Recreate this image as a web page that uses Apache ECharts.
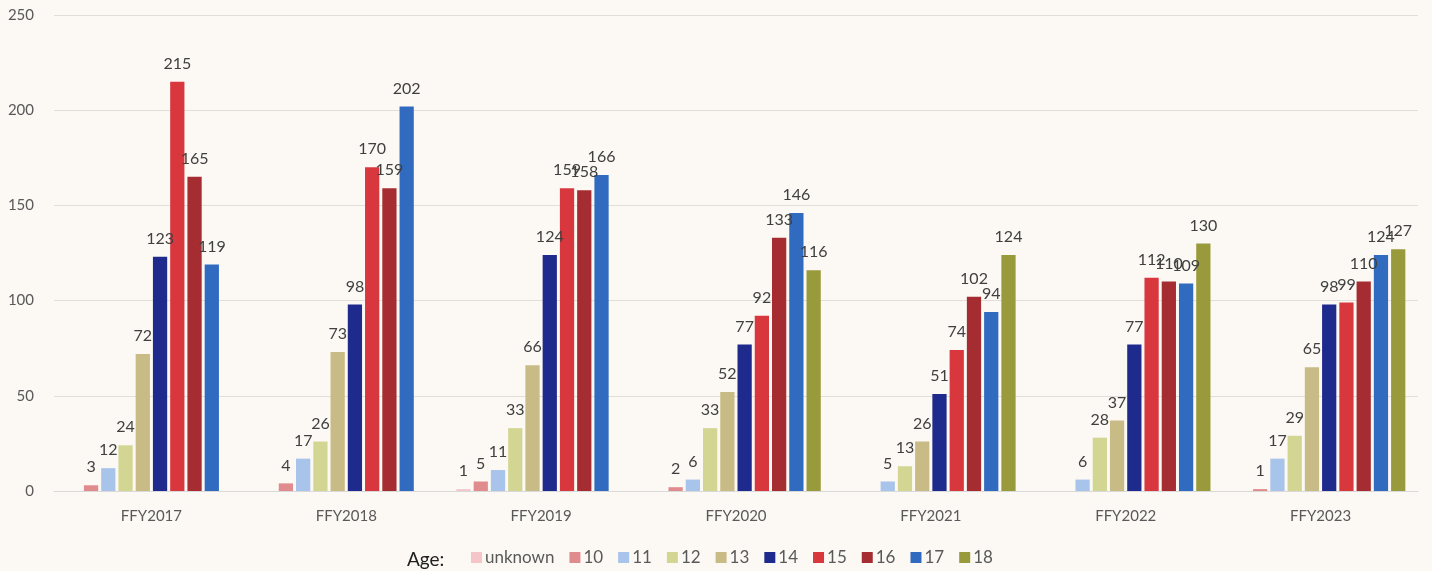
<!DOCTYPE html>
<html>
<head>
<meta charset="utf-8">
<script src="https://cdn.jsdelivr.net/npm/echarts@6/dist/echarts.min.js"></script>
<style>
html,body{margin:0;padding:0;background:#FCF9F4;}
#c{width:1432px;height:571px;}
</style>
</head>
<body>
<div id="c"></div>
<script>
const categories = ['FFY2017','FFY2018','FFY2019','FFY2020','FFY2021','FFY2022','FFY2023'];
const seriesNames = ['unknown','10','11','12','13','14','15','16','17','18'];
const vUnknown = [null, null, 1, null, null, null, null];
const v10 = [3, 4, 5, 2, null, null, 1];
const v11 = [12, 17, 11, 6, 5, 6, 17];
const v12 = [24, 26, 33, 33, 13, 28, 29];
const v13 = [72, 73, 66, 52, 26, 37, 65];
const v14 = [123, 98, 124, 77, 51, 77, 98];
const v15 = [215, 170, 159, 92, 74, 112, 99];
const v16 = [165, 159, 158, 133, 102, 110, 110];
const v17 = [119, 202, 166, 146, 94, 109, 124];
const v18 = [null, null, null, 116, 124, 130, 127];
const yTicks = [0, 50, 100, 150, 200, 250];

const allValues = [vUnknown, v10, v11, v12, v13, v14, v15, v16, v17, v18];
const colors = ['#F4C6CA','#E08B8E','#A8C4EA','#D3D592','#C9BB86','#1E2B8C','#D9373E','#A52D31','#316BC0','#999A3B'];
const FONT = 'Lato, "Liberation Sans", sans-serif';

const chart = echarts.init(document.getElementById('c'));
const series = seriesNames.map((n, i) => ({
  name: n,
  type: 'bar',
  data: allValues[i],
  barGap: '21%',
  barCategoryGap: '13%',
  itemStyle: { color: colors[i] },
  label: {
    show: true,
    position: 'top',
    distance: 10,
    color: '#404040',
    fontSize: 16,
    fontFamily: FONT
  }
}));

chart.setOption({
  backgroundColor: '#FCF9F4',
  animation: false,
  textStyle: { fontFamily: FONT },
  grid: { left: 54, right: 14, top: 15, bottom: 80 },
  legend: {
    bottom: 0,
    left: 466,
    itemWidth: 11,
    itemHeight: 11,
    itemGap: 15,
    icon: 'rect',
    textStyle: { fontSize: 17, color: '#595959', fontFamily: FONT, padding: [0, 0, 0, -2] },
    data: seriesNames
  },
  graphic: [{
    type: 'text',
    left: 407,
    bottom: 2,
    style: { text: 'Age:', fontSize: 19, fill: '#202020', fontFamily: FONT }
  }],
  xAxis: {
    type: 'category',
    data: categories,
    axisTick: { show: false },
    axisLine: { lineStyle: { color: '#D9D9D9' } },
    axisLabel: { color: '#595959', fontSize: 15, margin: 18, fontFamily: FONT }
  },
  yAxis: {
    type: 'value',
    min: yTicks[0],
    max: yTicks[yTicks.length - 1],
    interval: 50,
    axisLabel: { color: '#595959', fontSize: 15, margin: 20, fontFamily: FONT },
    splitLine: { lineStyle: { color: '#E2DEDA' } },
    axisLine: { show: false },
    axisTick: { show: false }
  },
  series: series
});
</script>
</body>
</html>
